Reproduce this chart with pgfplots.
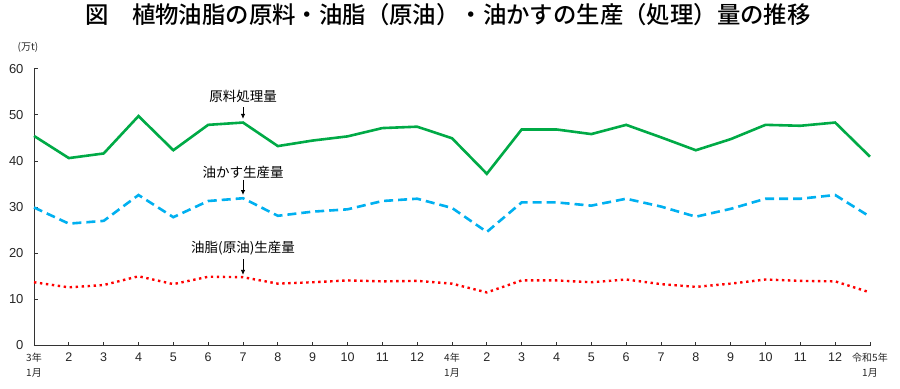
\documentclass[border=0pt]{standalone}
\usepackage{fontspec}
\usepackage{pgfplots}
\pgfplotsset{compat=1.18}
\usetikzlibrary{arrows.meta}
\setmainfont{Liberation Sans}
\newfontfamily\jp{Noto Sans CJK JP}
\newfontfamily\jpm{Noto Sans CJK JP Medium}
\definecolor{cgreen}{RGB}{0,170,70}
\definecolor{cblue}{RGB}{0,176,240}
\definecolor{cred}{RGB}{255,0,0}
\newcommand\yl[2]{{\jp\fontsize{10}{15}\selectfont #1}\\{\jp\fontsize{10}{15}\selectfont #2}}
\begin{document}
\begin{tikzpicture}
\begin{axis}[
  at={(0pt,0pt)}, anchor=south west,
  scale only axis, width=836pt, height=277pt,
  xmin=0, xmax=24, ymin=0, ymax=60,
  axis x line=bottom, axis y line=left,
  axis line style={-, line width=0.7pt, black!80},
  ytick={0,10,...,60},
  xtick={0,...,24},
  xticklabels={{\yl{3年}{1月}},2,3,4,5,6,7,8,9,10,11,12,{\yl{4年}{1月}},2,3,4,5,6,7,8,9,10,11,12,{\yl{令和5年}{1月}}},
  tick align=inside, major tick length=4pt,
  tick style={black!80, line width=0.7pt},
  /pgf/number format/assume math mode=true,
  yticklabel style={font=\fontsize{13}{13}\selectfont, text=black!85, xshift=-7pt},
  xticklabel style={font=\fontsize{12.5}{15}\selectfont, text=black!85, align=center, anchor=north, yshift=-4pt},
  clip=false,
]
\addplot[cgreen, line width=2.6pt] coordinates {
(0,45.4) (1,40.6) (2,41.6) (3,49.7) (4,42.3) (5,47.8) (6,48.3) (7,43.2) (8,44.4) (9,45.3) (10,47.1) (11,47.4) (12,44.9)
(13,37.2) (14,46.8) (15,46.8) (16,45.8) (17,47.8) (18,45.1) (19,42.3) (20,44.7) (21,47.8) (22,47.6) (23,48.3) (24,40.9)};
\addplot[cblue, line width=2.6pt, dash pattern=on 9pt off 5pt] coordinates {
(0,29.9) (1,26.4) (2,27.0) (3,32.6) (4,27.8) (5,31.3) (6,31.9) (7,28.1) (8,29.0) (9,29.5) (10,31.3) (11,31.8) (12,29.8)
(13,24.6) (14,31.0) (15,31.0) (16,30.3) (17,31.8) (18,30.1) (19,27.9) (20,29.6) (21,31.8) (22,31.8) (23,32.6) (24,27.9)};
\addplot[cred, line width=2.4pt, dash pattern=on 2.4pt off 3.6pt] coordinates {
(0,13.7) (1,12.6) (2,13.1) (3,15.0) (4,13.3) (5,14.9) (6,14.8) (7,13.4) (8,13.7) (9,14.1) (10,13.9) (11,14.0) (12,13.4)
(13,11.5) (14,14.1) (15,14.1) (16,13.7) (17,14.3) (18,13.3) (19,12.7) (20,13.4) (21,14.3) (22,14.0) (23,13.9) (24,11.5)};
\node[font=\jp\fontsize{13.5}{14}\selectfont] at (axis cs:6,53.9) {原料処理量};
\draw[-{Latex[length=5pt,width=4.5pt]}, line width=0.8pt] (axis cs:6,51.6) -- (axis cs:6,49.1);
\node[font=\jp\fontsize{13.5}{14}\selectfont] at (axis cs:6,37.5) {油かす生産量};
\draw[-{Latex[length=5pt,width=4.5pt]}, line width=0.8pt] (axis cs:6,35.9) -- (axis cs:6,32.6);
\node[font=\jp\fontsize{13.5}{14}\selectfont] at (axis cs:6,21.1) {油脂(原油)生産量};
\draw[-{Latex[length=5pt,width=4.5pt]}, line width=0.8pt] (axis cs:6,18.7) -- (axis cs:6,15.3);
\end{axis}
\node[font=\jp\fontsize{10}{11}\selectfont, text=black!85] at (-6pt,298pt) {(万t)};
\node[font=\jpm\fontsize{23.4}{24}\selectfont] at (414pt,331pt) {図　植物油脂の原料・油脂（原油）・油かすの生産（処理）量の推移};
\useasboundingbox (-34pt,-43pt) rectangle (866pt,344pt);
\end{tikzpicture}
\end{document}
